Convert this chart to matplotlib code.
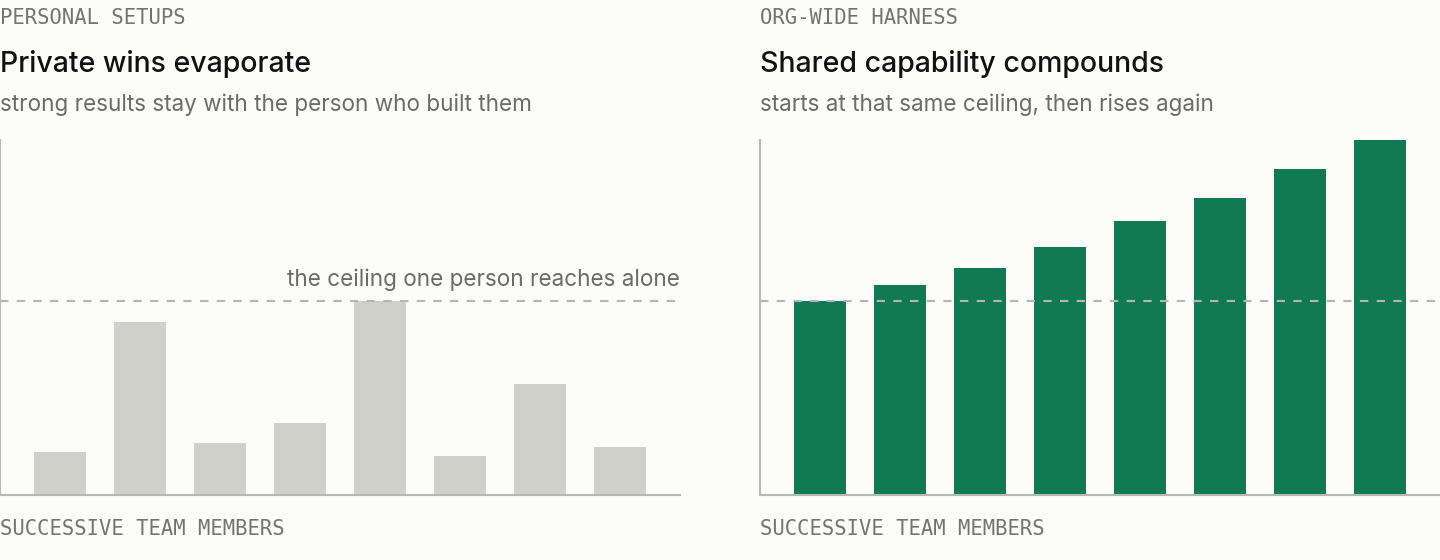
import matplotlib
matplotlib.use("Agg")
import matplotlib.pyplot as plt

# data (ceiling = 100)
members = list(range(8))
personal = [22, 89, 27, 37, 100, 20, 57, 25]
harness = [100, 108, 117, 128, 141, 153, 168, 183]
ceiling = 100

W, H = 1440, 560
BG = "#fcfcfb"
GREY_BAR = "#d0d0cb"
GREEN = "#117a53"
SPINE = "#b8b8b3"
DASH = "#b5b5b2"
SANS = ["Inter", "DejaVu Sans"]
MONO = ["DejaVu Sans Mono"]

fig = plt.figure(figsize=(W / 100, H / 100), dpi=100, facecolor=BG)


def fx(px):
    return px / W


def fy(py):
    return 1 - py / H


panels = [
    (0, personal, GREY_BAR, "PERSONAL SETUPS", "Private wins evaporate",
     "strong results stay with the person who built them", True),
    (760, harness, GREEN, "ORG-WIDE HARNESS", "Shared capability compounds",
     "starts at that same ceiling, then rises again", False),
]

for x0, vals, color, kicker, title, sub, note in panels:
    ax = fig.add_axes([fx(x0), fy(495), fx(680), (495 - 140) / H])
    ax.set_facecolor(BG)
    ax.bar(members, vals, width=0.65, color=color, zorder=2)
    ax.axhline(ceiling, color=DASH, lw=1.5, ls=(0, (4, 4)), zorder=3)
    ax.set_xlim(-0.75, 7.75)
    ax.set_ylim(0, max(harness))
    for s in ["top", "right"]:
        ax.spines[s].set_visible(False)
    for s in ["left", "bottom"]:
        ax.spines[s].set_color(SPINE)
        ax.spines[s].set_linewidth(1.5)
    ax.set_xticks([])
    ax.set_yticks([])
    ax.spines["left"].set_zorder(4)

    fig.text(fx(x0), fy(24), kicker, family=MONO, fontsize=14.8,
             color="#737373", va="baseline")
    fig.text(fx(x0), fy(72), title, family=SANS, fontsize=20.5, fontweight=500,
             color="#111111", va="baseline")
    fig.text(fx(x0), fy(111), sub, family=SANS, fontsize=16.2,
             color="#6b6b6b", va="baseline")
    fig.text(fx(x0), fy(535), "SUCCESSIVE TEAM MEMBERS", family=MONO,
             fontsize=14.8, color="#737373", va="baseline")
    if note:
        fig.text(fx(x0 + 680), fy(286), "the ceiling one person reaches alone",
                 family=SANS, fontsize=16.2, color="#6b6b6b", ha="right",
                 va="baseline")

fig.savefig("out.png", dpi=100, facecolor=BG)
